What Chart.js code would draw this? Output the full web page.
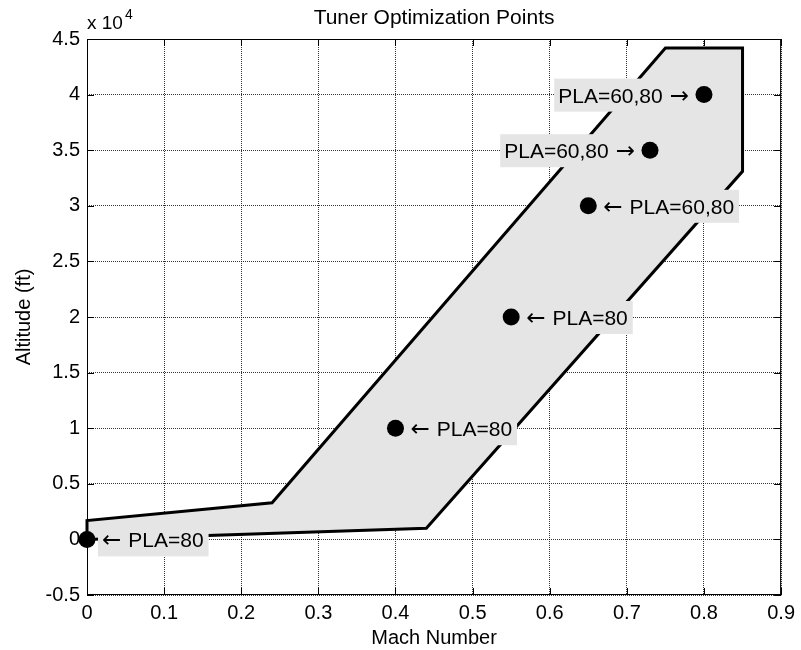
<!DOCTYPE html>
<html>
<head>
<meta charset="utf-8">
<script src="https://cdn.jsdelivr.net/npm/chart.js@4.4.1/dist/chart.umd.min.js"></script>
<style>
  html, body { margin: 0; padding: 0; background: #fff; }
</style>
</head>
<body>
<canvas id="chart" width="801" height="650"></canvas>
<script>
// flight envelope outline (Mach, altitude ft), closed
const envelopeMach = [0, 0, 0.24, 0.75, 0.85, 0.85, 0.44, 0];
const envelopeAlt = [0, 1700, 3300, 44200, 44200, 33100, 1000, 0];

// tuner optimization points
const pointMach = [0, 0.4, 0.55, 0.65, 0.73, 0.8];
const pointAlt = [0, 10000, 20000, 30000, 35000, 40000];
const pointLabels = ['PLA=80', 'PLA=80', 'PLA=80', 'PLA=60,80', 'PLA=60,80', 'PLA=60,80'];
const labelSide = ['right', 'right', 'right', 'right', 'left', 'left'];

const xTicks = [0, 0.1, 0.2, 0.3, 0.4, 0.5, 0.6, 0.7, 0.8, 0.9];
const yTicks = [-5000, 0, 5000, 10000, 15000, 20000, 25000, 30000, 35000, 40000, 45000];

const FONT = "'Liberation Sans', Arial, Helvetica, sans-serif";
const ARROW_FONT = "'DejaVu Sans', sans-serif";
Chart.defaults.font.family = FONT;
Chart.defaults.color = '#000';

function drawFrame(chart) {
    const { ctx, chartArea: a, scales } = chart;
    ctx.save();
    ctx.strokeStyle = '#000';
    ctx.lineWidth = 1;
    ctx.strokeRect(a.left + 0.5, a.top + 0.5, a.right - a.left - 1, a.bottom - a.top - 1);
    ctx.beginPath();
    xTicks.forEach(v => {
        const px = Math.round(scales.x.getPixelForValue(v)) + 0.5;
        ctx.moveTo(px, a.bottom); ctx.lineTo(px, a.bottom - 7);
        ctx.moveTo(px, a.top); ctx.lineTo(px, a.top + 7);
    });
    yTicks.forEach(v => {
        const py = Math.round(scales.y.getPixelForValue(v)) + 0.5;
        ctx.moveTo(a.left, py); ctx.lineTo(a.left + 7, py);
        ctx.moveTo(a.right, py); ctx.lineTo(a.right - 7, py);
    });
    ctx.stroke();
    ctx.restore();
}

const annotate = {
    id: 'annotate',
    afterDatasetDraw(chart, args) {
        if (args.index === 1) drawFrame(chart);
    },
    afterDraw(chart) {
        const { ctx, chartArea: a, scales } = chart;
        ctx.save();
        ctx.fillStyle = '#000';

        // title
        ctx.font = '21px ' + FONT;
        ctx.textAlign = 'center';
        ctx.textBaseline = 'alphabetic';
        ctx.fillText('Tuner Optimization Points', (a.left + a.right) / 2, 24);

        // exponent
        ctx.textAlign = 'left';
        ctx.font = '19px ' + FONT;
        ctx.fillText('x 10', a.left, 29);
        const w = ctx.measureText('x 10').width;
        ctx.font = '14px ' + FONT;
        ctx.fillText('4', a.left + w + 2, 19);

        // point labels: arrow glyph + text on a grey box
        pointMach.forEach((m, i) => {
            const px = scales.x.getPixelForValue(m);
            const py = scales.y.getPixelForValue(pointAlt[i]);
            const right = labelSide[i] === 'right';
            const arrow = right ? '\u2190' : '\u2192';
            ctx.font = '23px ' + ARROW_FONT;
            const aw = ctx.measureText(arrow).width;
            ctx.font = '21px ' + FONT;
            const lw = ctx.measureText(pointLabels[i]).width;
            const gap = 7;
            const tw = aw + gap + lw;
            const tx = right ? px + 15 : px - 15 - tw;
            ctx.fillStyle = '#e5e5e5';
            ctx.fillRect(tx - 4, py - 16, tw + 9, 33);
            ctx.fillStyle = '#000';
            if (right) {
                ctx.font = '23px ' + ARROW_FONT;
                ctx.fillText(arrow, tx, py + 8);
                ctx.font = '21px ' + FONT;
                ctx.fillText(pointLabels[i], tx + aw + gap, py + 8);
            } else {
                ctx.font = '21px ' + FONT;
                ctx.fillText(pointLabels[i], tx, py + 8);
                ctx.font = '23px ' + ARROW_FONT;
                ctx.fillText(arrow, tx + lw + gap, py + 8);
            }
        });
        ctx.restore();
    }
};

new Chart(document.getElementById('chart'), {
    type: 'scatter',
    data: {
        datasets: [
            {
                label: 'Points',
                data: pointMach.map((m, i) => ({ x: m, y: pointAlt[i] })),
                backgroundColor: '#000',
                borderWidth: 0,
                pointRadius: 8.5,
                pointHoverRadius: 8.5,
                showLine: false,
                clip: false
            },
            {
                label: 'Envelope',
                data: envelopeMach.map((m, i) => ({ x: m, y: envelopeAlt[i] })),
                showLine: true,
                fill: 'shape',
                backgroundColor: '#e5e5e5',
                borderColor: '#000',
                borderWidth: 3,
                borderJoinStyle: 'miter',
                pointRadius: 0,
                tension: 0,
                clip: false
            }
        ]
    },
    options: {
        responsive: false,
        animation: false,
        layout: { padding: { top: 39, right: 16, left: 0, bottom: 0 } },
        plugins: {
            legend: { display: false },
            tooltip: { enabled: false },
            title: { display: false }
        },
        scales: {
            x: {
                type: 'linear',
                min: 0,
                max: 0.9,
                afterBuildTicks: s => { s.ticks = xTicks.map(v => ({ value: v })); },
                afterFit: s => { s.height = 55; },
                ticks: {
                    padding: 6,
                    maxRotation: 0,
                    font: { size: 20 },
                    callback: v => String(Math.round(v * 10) / 10)
                },
                grid: { color: 'rgba(0,0,0,0.8)', lineWidth: 1, drawTicks: false },
                border: { display: false, dash: [1, 1] },
                title: {
                    display: true,
                    text: 'Mach Number',
                    font: { size: 20 },
                    padding: { top: 0, bottom: 0 }
                }
            },
            y: {
                type: 'linear',
                min: -5000,
                max: 45000,
                afterBuildTicks: s => { s.ticks = yTicks.map(v => ({ value: v })); },
                afterFit: s => { s.width = 87; },
                ticks: {
                    padding: 7,
                    font: { size: 20 },
                    callback: v => String(Math.round(v / 1000) / 10)
                },
                grid: { color: 'rgba(0,0,0,0.8)', lineWidth: 1, drawTicks: false },
                border: { display: false, dash: [1, 1] },
                title: {
                    display: true,
                    text: 'Altitude (ft)',
                    font: { size: 20 },
                    padding: { top: 12, bottom: 0 }
                }
            }
        }
    },
    plugins: [annotate]
});
</script>
</body>
</html>
